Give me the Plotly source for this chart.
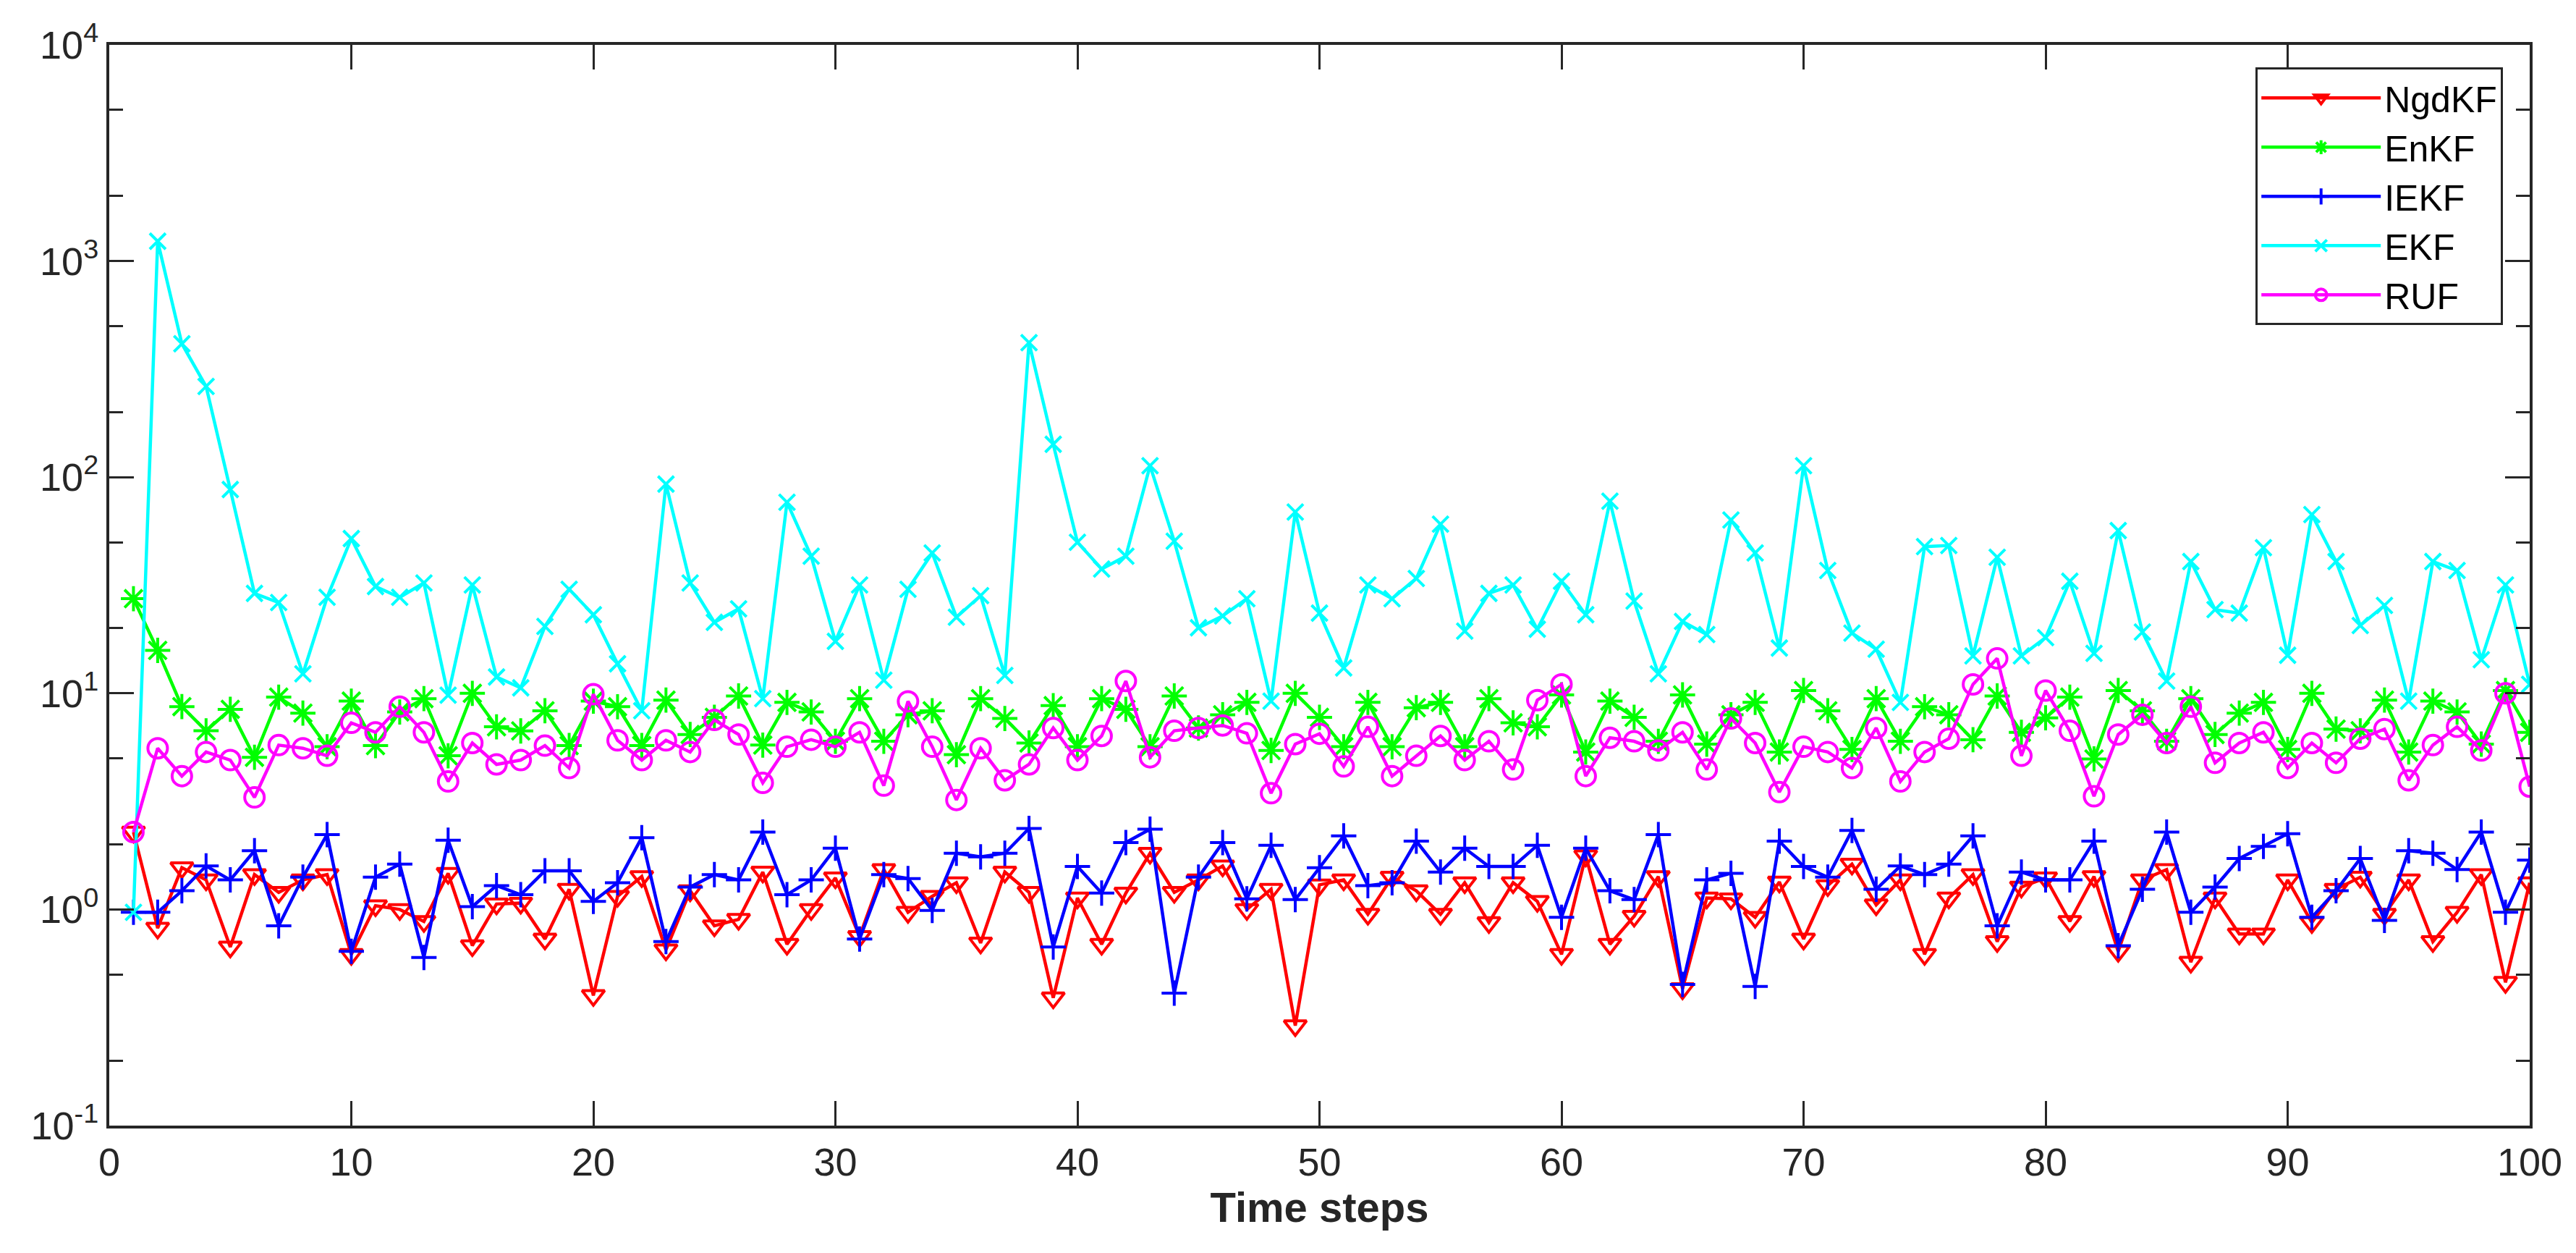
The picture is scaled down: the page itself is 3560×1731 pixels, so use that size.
import plotly.graph_objects as go

# time steps 1..100
steps = list(range(1, 101))

ngdkf = [2.28, 0.82, 1.56, 1.37, 0.67, 1.45, 1.2, 1.37, 1.45, 0.62,
         1.04, 1.0, 0.88, 1.47, 0.68, 1.06, 1.07, 0.73, 1.24, 0.40,
         1.15, 1.42, 0.65, 1.22, 0.84, 0.90, 1.49, 0.69, 1.0, 1.40,
         0.75, 1.53, 0.97, 1.15, 1.33, 0.70, 1.49, 1.20, 0.39, 1.13,
         0.69, 1.19, 1.82, 1.20, 1.37, 1.59, 1.0, 1.24, 0.29, 1.3,
         1.37, 0.95, 1.41, 1.22, 0.95, 1.33, 0.87, 1.33, 1.09, 0.62,
         1.77, 0.69, 0.93, 1.42, 0.43, 1.13, 1.12, 0.92, 1.34, 0.73,
         1.29, 1.62, 1.05, 1.37, 0.62, 1.13, 1.45, 0.71, 1.27, 1.40,
         0.88, 1.42, 0.64, 1.37, 1.53, 0.57, 1.13, 0.77, 0.77, 1.37,
         0.87, 1.24, 1.41, 0.95, 1.37, 0.71, 0.97, 1.45, 0.46, 1.33]

enkf = [27.4, 15.8, 8.68, 6.71, 8.43, 5.06, 9.6, 8.1, 5.66, 9.2,
        5.73, 8.2, 9.45, 5.14, 10.0, 7.0, 6.7, 8.3, 5.73, 9.2,
        8.67, 5.73, 9.3, 6.45, 7.74, 9.72, 5.76, 9.08, 8.2, 6.0,
        9.45, 6.0, 7.96, 8.3, 5.2, 9.45, 7.65, 5.89, 8.77, 5.66,
        9.45, 8.43, 5.66, 9.72, 6.91, 7.96, 9.08, 5.44, 10.0, 7.74,
        5.66, 9.08, 5.66, 8.58, 9.08, 5.66, 9.45, 7.3, 7.0, 9.83,
        5.35, 9.2, 7.74, 6.0, 9.83, 5.82, 7.96, 9.08, 5.35, 10.3,
        8.3, 5.5, 9.45, 6.0, 8.67, 7.96, 6.1, 9.72, 6.6, 7.7,
        9.6, 4.97, 10.3, 8.3, 6.0, 9.45, 6.45, 8.1, 9.08, 5.5,
        10.0, 6.83, 6.71, 9.3, 5.35, 9.2, 8.2, 5.82, 10.3, 6.6]

iekf = [0.97, 0.97, 1.22, 1.59, 1.37, 1.87, 0.84, 1.41, 2.22, 0.64,
        1.41, 1.62, 0.60, 2.09, 1.03, 1.29, 1.17, 1.51, 1.51, 1.09,
        1.33, 2.15, 0.71, 1.27, 1.45, 1.37, 2.28, 1.17, 1.37, 1.92,
        0.73, 1.45, 1.39, 0.99, 1.82, 1.75, 1.82, 2.37, 0.67, 1.58,
        1.19, 2.04, 2.35, 0.41, 1.41, 2.04, 1.12, 1.98, 1.11, 1.56,
        2.19, 1.29, 1.33, 2.07, 1.49, 1.92, 1.58, 1.58, 1.98, 0.92,
        1.92, 1.22, 1.11, 2.22, 0.45, 1.37, 1.47, 0.44, 2.07, 1.58,
        1.41, 2.32, 1.24, 1.59, 1.45, 1.62, 2.19, 0.84, 1.49, 1.37,
        1.37, 2.07, 0.68, 1.24, 2.28, 0.97, 1.27, 1.72, 1.96, 2.24,
        0.92, 1.22, 1.72, 0.89, 1.87, 1.82, 1.53, 2.28, 0.97, 1.69]

ekf = [0.97, 1235, 414, 263, 87.7, 29, 26.3, 12.3, 27.8, 52,
       31.2, 27.8, 32.4, 9.8, 31.7, 11.9, 10.6, 20.4, 30.3, 23.1,
       13.7, 8.3, 92.9, 32.4, 21.3, 24.6, 9.45, 76.5, 43.1, 17.4,
       31.7, 11.5, 30.3, 44.6, 22.5, 28.3, 12.1, 419, 142, 50,
       37.6, 43.1, 113, 50.6, 20.1, 22.8, 27.4, 9.2, 69, 23.5,
       13.1, 31.7, 27.4, 34, 60.6, 19.4, 29, 31.7, 19.8, 33,
       23.1, 77.4, 26.7, 12.3, 21.5, 18.7, 63.4, 44.6, 16.2, 113,
       37, 19.0, 16.0, 9.08, 47.7, 48.3, 14.9, 42.6, 14.9, 18.1,
       33, 15.3, 56.6, 19.2, 11.4, 40.7, 24.4, 23.5, 47.2, 15.0,
       67.1, 40.7, 20.6, 25.5, 9.2, 40.7, 37, 14.3, 31.7, 11.0]

ruf = [2.28, 5.57, 4.14, 5.35, 4.91, 3.30, 5.76, 5.57, 5.14, 7.3,
       6.6, 8.67, 6.6, 3.91, 5.89, 4.69, 4.91, 5.73, 4.51, 9.9,
       6.06, 4.91, 6.06, 5.35, 7.53, 6.45, 3.85, 5.66, 6.1, 5.66,
       6.6, 3.74, 9.18, 5.66, 3.21, 5.57, 3.96, 4.69, 6.91, 4.91,
       6.35, 11.4, 5.06, 6.71, 6.91, 7.1, 6.53, 3.45, 5.82, 6.5,
       4.59, 7.0, 4.14, 5.14, 6.35, 4.91, 6.0, 4.44, 9.3, 11.0,
       4.14, 6.23, 6.0, 5.44, 6.6, 4.44, 7.65, 5.89, 3.49, 5.66,
       5.35, 4.51, 6.91, 3.91, 5.35, 6.17, 11.0, 14.5, 5.14, 10.3,
       6.71, 3.34, 6.45, 7.96, 5.89, 8.67, 4.77, 5.89, 6.6, 4.51,
       5.89, 4.77, 6.17, 6.83, 3.96, 5.76, 7.0, 5.44, 10.0, 3.70]

x_ticks = [0, 10, 20, 30, 40, 50, 60, 70, 80, 90, 100]
y_ticks = [0.1, 1, 10, 100, 1000, 10000]
y_ticktext = ["10<sup>-1</sup>", "10<sup>0</sup>", "10<sup>1</sup>",
              "10<sup>2</sup>", "10<sup>3</sup>", "10<sup>4</sup>"]

# (name, values, colour, symbol, size) in the order of the legend
series = [
    ("NgdKF", ngdkf, "#FF0000", "triangle-down-open", 27),
    ("EnKF", enkf, "#00FF00", "asterisk-open", 29),
    ("IEKF", iekf, "#0000FF", "cross-thin-open", 25),
    ("EKF", ekf, "#00FFFF", "x-thin-open", 22),
    ("RUF", ruf, "#FF00FF", "circle-open", 27),
]

axis_col = "#262626"

fig = go.Figure()
for name, vals, col, sym, size in series:
    fig.add_trace(go.Scatter(
        x=steps, y=vals, name=name, mode="lines+markers",
        line=dict(color=col, width=4.5),
        marker=dict(symbol=sym, size=size, color=col,
                    line=dict(color=col, width=4)),
    ))

fig.update_xaxes(
    range=[0, 100], tickvals=x_ticks,
    ticks="inside", ticklen=34, tickwidth=3, tickcolor=axis_col,
    showline=True, linewidth=4, linecolor=axis_col, mirror="ticks",
    showgrid=False, zeroline=False,
    tickfont=dict(size=54, color=axis_col),
    title=dict(text="<b>Time steps</b>", font=dict(size=58, color=axis_col), standoff=6),
)
fig.update_yaxes(
    type="log", range=[-1, 4], tickvals=y_ticks, ticktext=y_ticktext,
    ticks="inside", ticklen=34, tickwidth=3, tickcolor=axis_col,
    minor=dict(ticks="inside", ticklen=19, tickwidth=3, tickcolor=axis_col, showgrid=False),
    showline=True, linewidth=4, linecolor=axis_col, mirror="ticks",
    showgrid=False, zeroline=False,
    tickfont=dict(size=54, color=axis_col),
)

fig.update_layout(
    width=3560, height=1731,
    margin=dict(l=143, r=72, t=54, b=184),
    paper_bgcolor="white", plot_bgcolor="white",
    font=dict(family="Liberation Sans, Arial, sans-serif", color=axis_col),
    legend=dict(
        x=0.989, y=0.979, xanchor="right", yanchor="top",
        bgcolor="white", bordercolor=axis_col, borderwidth=3,
        font=dict(size=50, color="black"),
        itemwidth=165,
    ),
    showlegend=True,
)

fig.write_html("out.html")
